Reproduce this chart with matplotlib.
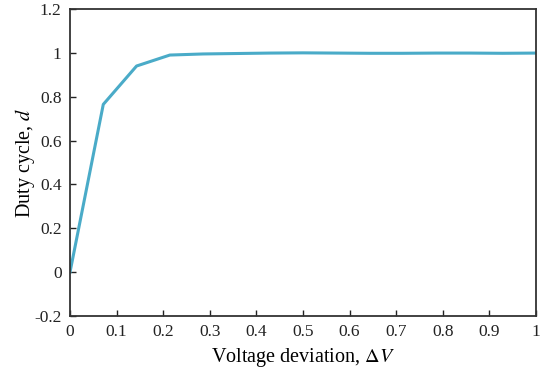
import matplotlib
matplotlib.use('Agg')
import matplotlib.pyplot as plt

plt.rcParams['font.family'] = 'Liberation Serif'
plt.rcParams['mathtext.fontset'] = 'stix'

# datos
voltageDev = [k / 14 for k in range(15)]
dutyCycle = [0, 0.765, 0.94, 0.99, 0.995, 0.997, 0.999, 1.0,
             0.999, 0.998, 0.998, 0.999, 0.999, 0.998, 0.999]
xTicks = [0, 0.1, 0.2, 0.3, 0.4, 0.5, 0.6, 0.7, 0.8, 0.9, 1]
yTicks = [-0.2, 0, 0.2, 0.4, 0.6, 0.8, 1, 1.2]

fig = plt.figure(figsize=(5.46, 3.72), dpi=100)
ax = fig.add_axes([70/546, 1 - 316/372, 466/546, 307/372])
ax.plot(voltageDev, dutyCycle, color='#4aabc8', linewidth=2.2)

ax.set_xlim(0, 1)
ax.set_ylim(-0.2, 1.2)
ax.set_xticks(xTicks)
ax.set_xticklabels(['0', '0.1', '0.2', '0.3', '0.4', '0.5', '0.6', '0.7', '0.8', '0.9', '1'])
ax.set_yticks(yTicks)
ax.set_yticklabels(['-0.2', '0', '0.2', '0.4', '0.6', '0.8', '1', '1.2'])
ax.tick_params(direction='in', length=4, width=1, labelsize=12.5, colors='#222222',
               top=False, right=False, pad=6)
for s in ax.spines.values():
  s.set_linewidth(1.3)
  s.set_color('#333333')

ax.set_xlabel(r'Voltage deviation, $\Delta V$', fontsize=14.5, labelpad=4)
ax.set_ylabel(r'Duty cycle, $d$', fontsize=14.5, labelpad=-2)

fig.savefig('out.png', dpi=100)
